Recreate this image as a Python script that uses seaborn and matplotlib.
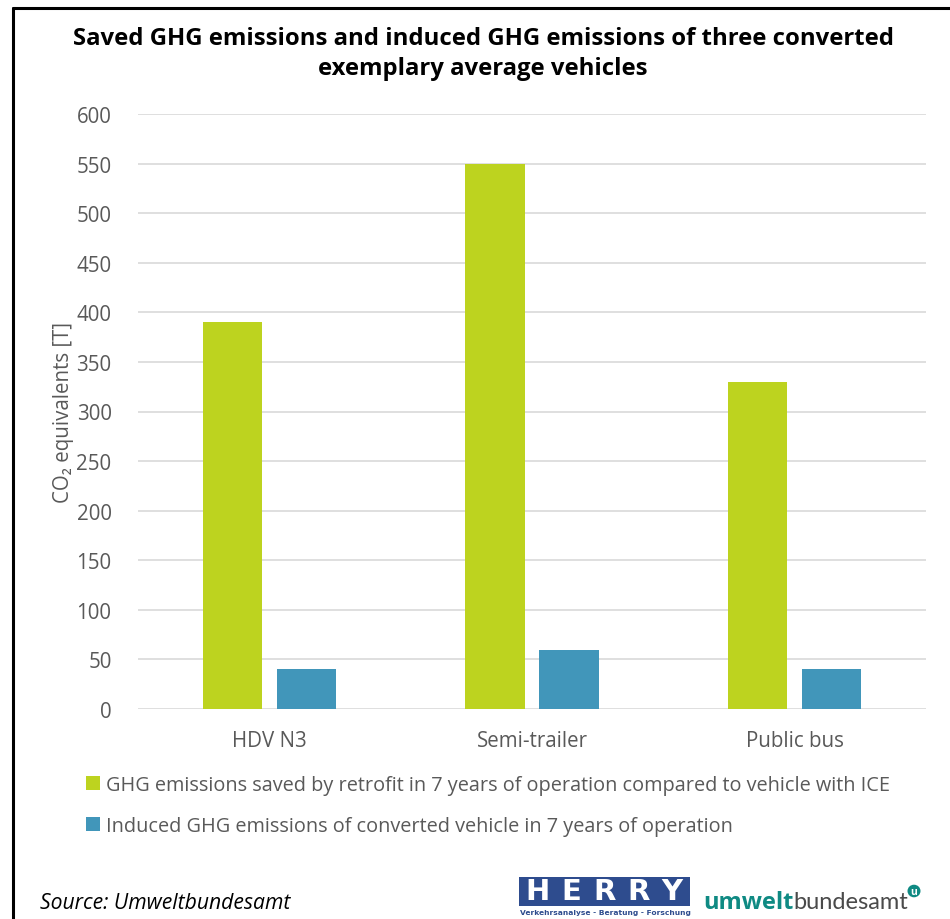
import matplotlib
matplotlib.use("Agg")
import matplotlib.pyplot as plt
from matplotlib.lines import Line2D
from matplotlib.patches import Rectangle, Circle
import seaborn as sns
import pandas as pd

# --- data ---
vehicles = ["HDV N3", "Semi-trailer", "Public bus"]
saved = [390, 550, 330]
induced = [40, 60, 40]
series_names = [
    "GHG emissions saved by retrofit in 7 years of operation compared to vehicle with ICE",
    "Induced GHG emissions of converted vehicle in 7 years of operation",
]
y_ticks = [0, 50, 100, 150, 200, 250, 300, 350, 400, 450, 500, 550, 600]

GREEN = "#BDD31F"
BLUE = "#4196BA"
TICK_GRAY = "#595959"
GRID_GRAY = "#D9D9D9"

df = pd.DataFrame({
    "vehicle": vehicles * 2,
    "value": saved + induced,
    "series": [series_names[0]] * 3 + [series_names[1]] * 3,
})

sns.set_theme(style="white")
plt.rcParams["font.family"] = ["Open Sans", "DejaVu Sans"]

fig = plt.figure(figsize=(9.5, 9.2), dpi=100)
ax = fig.add_axes([138 / 950, 210 / 920, 788 / 950, 595 / 920])

sns.barplot(
    data=df, x="vehicle", y="value", hue="series",
    order=vehicles, hue_order=series_names,
    palette=[GREEN, BLUE], width=0.563, gap=0.2,
    saturation=1.0, linewidth=0, ax=ax, legend=True,
)

ax.set_ylim(0, 600)
ax.set_yticks(y_ticks)
ax.set_yticklabels([str(t) for t in y_ticks])
ax.yaxis.grid(True, color=GRID_GRAY, linewidth=1.2)
ax.set_axisbelow(True)
for s in ax.spines.values():
    s.set_visible(False)
ax.tick_params(axis="y", length=0, pad=19, labelsize=14.8, labelcolor=TICK_GRAY)
ax.tick_params(axis="x", length=0, pad=15, labelsize=14.8, labelcolor=TICK_GRAY)
ax.set_xlabel("")
ax.set_ylabel("CO₂ equivalents [T]", fontsize=14.8, color=TICK_GRAY)
ax.yaxis.set_label_coords(-0.081, 0.5)

handles, labels = ax.get_legend_handles_labels()
ax.get_legend().remove()
fig.legend(
    handles, labels, loc="upper left", bbox_to_anchor=(86 / 950, 1 - 776 / 920),
    frameon=False, fontsize=14.3, labelcolor=TICK_GRAY,
    handlelength=0.7, handleheight=0.7, handletextpad=0.3,
    labelspacing=1.05, borderaxespad=0, borderpad=0,
)

# title
fig.text(483 / 950, 1 - 54 / 920,
         "Saved GHG emissions and induced GHG emissions of three converted\nexemplary average vehicles",
         ha="center", va="center", fontsize=17.2, fontweight="bold", color="black",
         linespacing=1.3)

# frame lines at top and left
fig.add_artist(Line2D([13 / 950, 1.0], [1 - 9 / 920, 1 - 9 / 920], color="black", lw=2.2,
                      transform=fig.transFigure))
fig.add_artist(Line2D([13 / 950, 13 / 950], [1 - 9 / 920, 0.0], color="black", lw=2.2,
                      transform=fig.transFigure))

# source note
fig.text(40 / 950, 1 - 904 / 920, "Source: Umweltbundesamt", ha="left", va="center",
         fontsize=15.2, style="italic", color="black")

# HERRY logo
HERRY_BLUE = "#2E4C8E"
fig.add_artist(Rectangle((519 / 950, 1 - 907 / 920), 171 / 950, 29 / 920,
                         transform=fig.transFigure, facecolor=HERRY_BLUE, edgecolor="none"))
for i, ch in enumerate("HERRY"):
    fig.text((538 + i * 33.5) / 950, 1 - 892.5 / 920, ch, ha="center", va="center",
             fontsize=21, fontweight="heavy", color="white", family="DejaVu Sans")
fig.text(605 / 950, 1 - 913 / 920, "Verkehrsanalyse - Beratung - Forschung",
         ha="center", va="center", fontsize=5.4, fontweight="bold", color=HERRY_BLUE,
         family="DejaVu Sans")

# umweltbundesamt logo
TEAL = "#0F8A83"
t1 = fig.text(703 / 950, 1 - 903 / 920, "umwelt", ha="left", va="center",
              fontsize=17, fontweight="bold", color=TEAL)
fig.canvas.draw()
bb = t1.get_window_extent()
fig.text(bb.x1 / 950, 1 - 903 / 920, "bundesamt", ha="left", va="center",
         fontsize=17, color="#4A4A4A", family="Lato", fontweight="normal")
fig.add_artist(Circle((914 / 950, 1 - 892 / 920), 6.5 / 950, transform=fig.transFigure,
                      facecolor=TEAL, edgecolor="none"))
fig.text(914 / 950, 1 - 892.5 / 920, "u", ha="center", va="center", fontsize=7.5,
         fontweight="bold", color="white")

fig.savefig("out.png", dpi=100, facecolor="white")
